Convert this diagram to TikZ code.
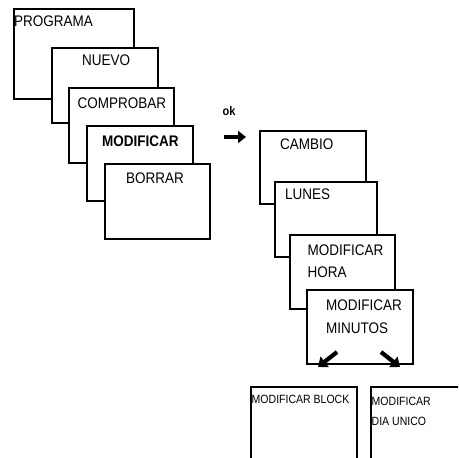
\documentclass[tikz,border=0pt]{standalone}
\usepackage{fontspec}
\setmainfont[FakeStretch=0.88]{Liberation Sans}
\usetikzlibrary{arrows.meta}
\begin{document}
\begin{tikzpicture}[x=1bp,y=-1bp,
  box/.style={draw=black,fill=white,line width=1.3bp,anchor=north west,inner sep=0pt,outer sep=0pt},
  lbl/.style={anchor=base west,inner sep=0pt,font=\fontsize{15.4}{16}\selectfont},
  slbl/.style={anchor=base west,inner sep=0pt,font=\fontsize{12}{13}\selectfont},
  bigarrow/.style={line width=3.2bp,-{Triangle[length=8bp,width=12bp]}},
  diagarrow/.style={line width=4.2bp,-{Triangle[length=8.5bp,width=13bp]}}]
\useasboundingbox (0,0) rectangle (458,458);
\clip (0,0) rectangle (458,458);
% left stack
\node[box,minimum width=120bp,minimum height=90bp] (prog) at (14,9) {};
\node[lbl] (tprog) at (14,26.5) {PROGRAMA};
\node[box,minimum width=106bp,minimum height=75bp] (nuevo) at (52,48) {};
\node[lbl] (tnuevo) at (82,66) {NUEVO};
\node[box,minimum width=105bp,minimum height=75bp] (comp) at (69,88) {};
\node[lbl] (tcomp) at (77.5,108.3) {COMPROBAR};
\node[box,minimum width=106bp,minimum height=75bp] (modif) at (87,126) {};
\node[lbl,font=\fontsize{15.4}{16}\selectfont\bfseries] (tmodif) at (102,146.5) {MODIFICAR};
\node[box,minimum width=105bp,minimum height=75bp] (borrar) at (105,164) {};
\node[lbl] (tborrar) at (126,184) {BORRAR};
% ok arrow
\node[anchor=base west,inner sep=0pt,font=\fontsize{12.5}{13}\selectfont\bfseries] (ok) at (222.5,115.5) {ok};
\coordinate (a1) at (224,137);
\coordinate (a2) at (246,137);
\draw[bigarrow] (a1) -- (a2);
% right stack
\node[box,minimum width=106bp,minimum height=73bp] (cambio) at (260,131) {};
\node[lbl] (tcambio) at (280,149.3) {CAMBIO};
\node[box,minimum width=102bp,minimum height=75bp] (lunes) at (275,182) {};
\node[lbl] (tlunes) at (285,200) {LUNES};
\node[box,minimum width=105bp,minimum height=74bp] (hora) at (290,235) {};
\node[lbl] (thora1) at (307.5,255) {MODIFICAR};
\node[lbl] (thora2) at (307.5,277) {HORA};
\node[box,minimum width=106bp,minimum height=74bp] (minutos) at (307,290) {};
\node[lbl] (tmin1) at (326,310) {MODIFICAR};
\node[lbl] (tmin2) at (326,333) {MINUTOS};
% down arrows
\coordinate (b1) at (337,352);
\coordinate (b2) at (318,367);
\draw[diagarrow] (b1) -- (b2);
\coordinate (c1) at (381,352);
\coordinate (c2) at (400,367);
\draw[diagarrow] (c1) -- (c2);
% bottom boxes (cut by frame)
\node[box,minimum width=106bp,minimum height=90bp] (block) at (251,387) {};
\node[slbl] (tblock) at (251.5,403) {MODIFICAR BLOCK};
\node[box,minimum width=100bp,minimum height=90bp] (dia) at (371,387) {};
\node[slbl] (tdia1) at (371.5,405) {MODIFICAR};
\node[slbl] (tdia2) at (371.5,425) {DIA UNICO};
\end{tikzpicture}
\end{document}
